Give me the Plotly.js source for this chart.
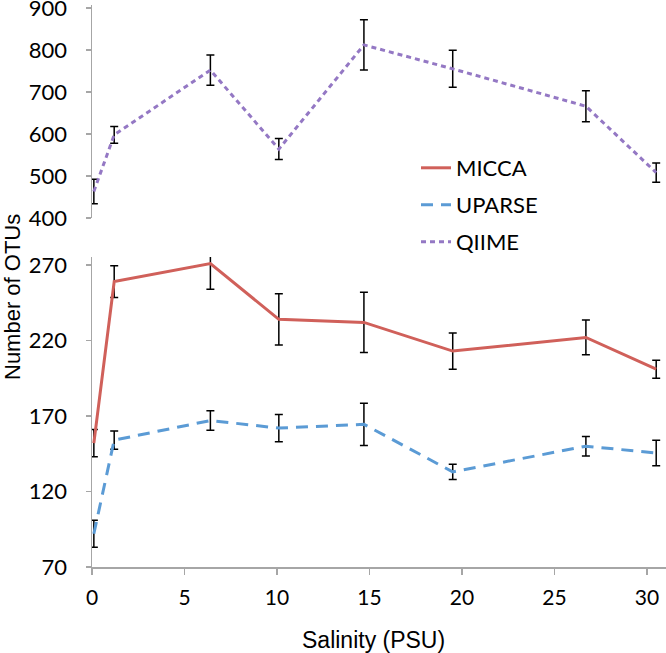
<!DOCTYPE html>
<html>
<head>
<meta charset="utf-8">
<script src="https://cdn.plot.ly/plotly-3.0.1.min.js"></script>
<style>html,body{margin:0;padding:0;background:#fff;}#chart{width:666px;height:653px;}</style>
</head>
<body>
<div id="chart"></div>
<script>
var salinity = [0.1, 1.2, 6.4, 10.1, 14.7, 19.5, 26.7, 30.5];
var miccaOTUs = [152, 259, 271, 234, 232, 213, 222, 201];
var miccaErr = [9, 10.5, 17, 17, 20, 12, 11.5, 6];
var uparseOTUs = [92, 154, 167, 162, 164.5, 133, 150, 145.5];
var uparseErr = [9, 6, 6.5, 9, 14, 5, 6.5, 8.5];
var qiimeOTUs = [463, 598, 752, 564, 812, 755, 666, 508];
var qiimeErr = [29, 20, 36, 25, 60, 44, 37, 23];
var lowerTicks = [70, 120, 170, 220, 270];
var upperTicks = [400, 500, 600, 700, 800, 900];
var xTicks = [0, 5, 10, 15, 20, 25, 30];

function errBar(arr) {
  return {type: 'data', array: arr, visible: true, color: '#000000', thickness: 1.5, width: 4};
}

var traces = [
  {x: salinity, y: miccaOTUs, name: 'MICCA', type: 'scatter', mode: 'lines', legend: 'legend',
   line: {color: '#d0605a', width: 3}, error_y: errBar(miccaErr), xaxis: 'x', yaxis: 'y'},
  {x: salinity, y: uparseOTUs, name: 'UPARSE', type: 'scatter', mode: 'lines', legend: 'legend2',
   line: {color: '#5b9bd5', width: 3, dash: '12px,8px'}, error_y: errBar(uparseErr), xaxis: 'x', yaxis: 'y'},
  {x: salinity, y: qiimeOTUs, name: 'QIIME', type: 'scatter', mode: 'lines', legend: 'legend3',
   line: {color: '#9478c4', width: 3, dash: '5px,4px'}, error_y: errBar(qiimeErr), xaxis: 'x', yaxis: 'y2'}
];

var tickFont = {family: 'Lato, sans-serif', size: 22, color: '#000'};
var arialFont = '"Liberation Sans", Arial, sans-serif';

var plotL = 92, plotB = 567, plotH = 562, plotW = 574;
function legendAt(cy) {
  return {x: (416 - plotL) / plotW, y: (plotB - cy) / plotH, xanchor: 'left', yanchor: 'middle',
          xref: 'paper', yref: 'paper', bgcolor: 'rgba(0,0,0,0)', borderwidth: 0, itemwidth: 30,
          font: {family: 'Lato, sans-serif', size: 22, color: '#000'}};
}

var layout = {
  width: 666, height: 653,
  margin: {l: 92, r: 0, t: 5, b: 86},
  paper_bgcolor: '#fff', plot_bgcolor: '#fff',
  showlegend: true,
  legend: legendAt(168),
  legend2: legendAt(205),
  legend3: legendAt(242),
  xaxis: {
    range: [0, 31.03], tickvals: xTicks, ticktext: xTicks.map(String),
    showline: true, linecolor: '#a6a6a6', linewidth: 1.5,
    ticks: 'outside', ticklen: 6, tickcolor: '#a6a6a6', tickwidth: 1.5,
    showgrid: false, zeroline: false, anchor: 'y', ticklabelstandoff: 5,
    tickfont: {family: 'Lato, sans-serif', size: 21, color: '#000'}
  },
  yaxis: {
    domain: [0, 0.5516], range: [70, 275.3], tickvals: lowerTicks,
    showline: true, linecolor: '#a6a6a6', linewidth: 1.5,
    ticks: 'outside', ticklen: 5, tickcolor: '#a6a6a6', tickwidth: 1.5,
    showgrid: false, zeroline: false, tickfont: tickFont, ticklabelstandoff: 14
  },
  yaxis2: {
    domain: [0.621, 1], range: [400, 907], tickvals: upperTicks,
    showline: true, linecolor: '#a6a6a6', linewidth: 1.5,
    ticks: 'outside', ticklen: 5, tickcolor: '#a6a6a6', tickwidth: 1.5,
    showgrid: false, zeroline: false, tickfont: tickFont, anchor: 'x', ticklabelstandoff: 14,
    ticklabeloverflow: 'allow'
  },
  annotations: [{
    text: 'Number of OTUs', textangle: -90, xref: 'paper', yref: 'paper',
    x: (12 - plotL) / plotW, y: (plotB - 297) / plotH, xanchor: 'center', yanchor: 'middle', showarrow: false,
    font: {family: arialFont, size: 22, color: '#000'}
  }, {
    text: 'Salinity (PSU)', xref: 'paper', yref: 'paper',
    x: (373 - plotL) / plotW, y: (plotB - 640) / plotH, xanchor: 'center', yanchor: 'middle', showarrow: false,
    font: {family: arialFont, size: 23, color: '#000'}
  }]
};

Plotly.newPlot('chart', traces, layout, {displayModeBar: false, staticPlot: true});
</script>
</body>
</html>
